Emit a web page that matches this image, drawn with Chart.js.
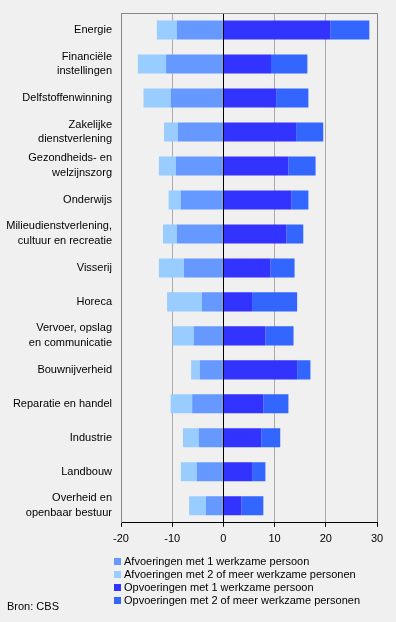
<!DOCTYPE html>
<html>
<head>
<meta charset="utf-8">
<script src="https://cdn.jsdelivr.net/npm/chart.js@4"></script>
<style>
  body { margin: 0; background: #f0f0f0; font-family: "Liberation Sans", Arial, sans-serif; }
  #wrap { position: relative; width: 396px; height: 622px; }
  #legend { position: absolute; left: 114px; top: 555px; font-size: 11px; line-height: 13px; color: #000; }
  #legend div { white-space: nowrap; }
  #legend span { display: inline-block; width: 7px; height: 7px; margin-right: 3px; vertical-align: 0px; }
  #bron { position: absolute; left: 7px; top: 600px; font-size: 11px; line-height: 13px; color: #000; }
</style>
</head>
<body>
<div id="wrap">
  <canvas id="chart" width="396" height="622"></canvas>
  <div id="legend"></div>
  <div id="bron">Bron: CBS</div>
</div>
<script>
    // Bedrijven naar sector: afvoeringen (negatief) en opvoeringen
    const categories = [
        'Energie',
        ['Financiële', 'instellingen'],
        'Delfstoffenwinning',
        ['Zakelijke', 'dienstverlening'],
        ['Gezondheids- en', 'welzijnszorg'],
        'Onderwijs',
        ['Milieudienstverlening,', 'cultuur en recreatie'],
        'Visserij',
        'Horeca',
        ['Vervoer, opslag', 'en communicatie'],
        'Bouwnijverheid',
        'Reparatie en handel',
        'Industrie',
        'Landbouw',
        ['Overheid en', 'openbaar bestuur']
    ];
    const afv1 = [-9.1, -11.2, -10.3, -8.9, -9.3, -8.3, -9.1, -7.7, -4.2, -5.8, -4.6, -6.1, -4.8, -5.2, -3.4];
    const afv2 = [-3.9, -5.5, -5.3, -2.7, -3.3, -2.4, -2.7, -4.9, -6.8, -4.1, -1.7, -4.2, -3.1, -3.1, -3.3];
    const opv1 = [20.9, 9.3, 10.3, 14.2, 12.7, 13.3, 12.3, 9.2, 5.6, 8.2, 14.4, 7.8, 7.4, 5.6, 3.5];
    const opv2 = [7.6, 7.1, 6.3, 5.3, 5.3, 3.3, 3.3, 4.7, 8.8, 5.5, 2.6, 4.9, 3.7, 2.6, 4.3];
    const seriesNames = [
        'Afvoeringen met 1 werkzame persoon',
        'Afvoeringen met 2 of meer werkzame personen',
        'Opvoeringen met 1 werkzame persoon',
        'Opvoeringen met 2 of meer werkzame personen'
    ];
    const seriesColors = ['#6699ff', '#99ccff', '#3333ff', '#3366ff'];
    const xTicks = [-20, -10, 0, 10, 20, 30];

    const font = { family: '"Liberation Sans", Arial, sans-serif', size: 11 };

    // zero line and top frame on top of the bars
    const framePlugin = {
        id: 'frame',
        afterDatasetsDraw(chart) {
            const { ctx, chartArea, scales } = chart;
            const x0 = Math.round(scales.x.getPixelForValue(0)) + 0.5;
            ctx.save();
            ctx.strokeStyle = '#000';
            ctx.lineWidth = 1;
            ctx.beginPath();
            ctx.moveTo(x0, chartArea.top);
            ctx.lineTo(x0, chartArea.bottom);
            ctx.stroke();
            ctx.strokeStyle = '#888';
            ctx.beginPath();
            ctx.moveTo(chartArea.left, Math.round(chartArea.top) + 0.5);
            ctx.lineTo(chartArea.right, Math.round(chartArea.top) + 0.5);
            ctx.stroke();
            ctx.restore();
        }
    };

    const datasets = [afv1, afv2, opv1, opv2].map((d, i) => ({
        label: seriesNames[i],
        data: d,
        backgroundColor: seriesColors[i],
        borderWidth: 0,
        barPercentage: 0.56,
        categoryPercentage: 1
    }));

    new Chart(document.getElementById('chart'), {
        type: 'bar',
        data: { labels: categories, datasets: datasets },
        plugins: [framePlugin],
        options: {
            indexAxis: 'y',
            responsive: false,
            animation: false,
            layout: { padding: { top: 13, right: 19, bottom: 70, left: 0 } },
            scales: {
                x: {
                    stacked: true,
                    min: -20,
                    max: 30,
                    afterBuildTicks(scale) { scale.ticks = xTicks.map(v => ({ value: v })); },
                    grid: {
                        color: ctx => (ctx.tick && (ctx.tick.value === -20 || ctx.tick.value === 30)) ? '#888' : '#aaa',
                        tickColor: '#000',
                        tickLength: 4
                    },
                    border: { color: '#000' },
                    ticks: { color: '#000', font: font, padding: 6, maxRotation: 0 }
                },
                y: {
                    stacked: true,
                    afterFit(scale) {
                        scale.width = 121;
                        scale.paddingTop = 0;
                        scale.paddingBottom = 0;
                    },
                    grid: { display: false, drawTicks: false },
                    border: { color: '#888' },
                    ticks: { color: '#000', font: Object.assign({ lineHeight: 1.36 }, font), padding: 9, autoSkip: false }
                }
            },
            plugins: {
                legend: { display: false },
                tooltip: { enabled: false }
            }
        }
    });

    // legend below the chart
    const legend = document.getElementById('legend');
    seriesNames.forEach((name, i) => {
        const row = document.createElement('div');
        row.innerHTML = '<span style="background:' + seriesColors[i] + '"></span>' + name;
        legend.appendChild(row);
    });
</script>
</body>
</html>
